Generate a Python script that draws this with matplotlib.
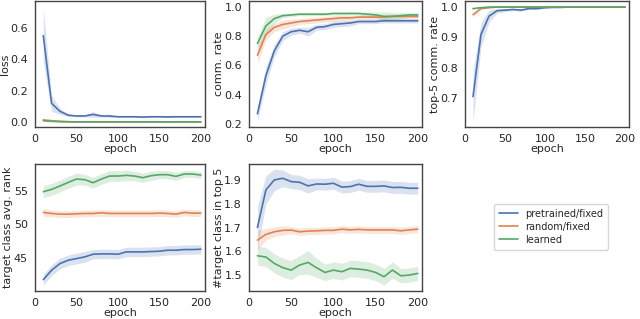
import matplotlib
matplotlib.use("Agg")
import matplotlib.pyplot as plt
import seaborn as sns
import numpy as np

sns.set_style("white")
plt.rcParams['font.family'] = ['DejaVu Sans']

epochs = [10, 20, 30, 40, 50, 60, 70, 80, 90, 100, 110, 120, 130, 140, 150, 160, 170, 180, 190, 200]
series_names = ["pretrained/fixed", "random/fixed", "learned"]

loss_pre = [0.55, 0.12, 0.07, 0.045, 0.04, 0.04, 0.05, 0.04, 0.04, 0.035, 0.035, 0.035, 0.033, 0.035, 0.035, 0.034, 0.035, 0.035, 0.035, 0.035]
loss_pre_err = [0.17, 0.05, 0.02, 0.008, 0.006, 0.006, 0.018, 0.006, 0.01, 0.004, 0.004, 0.004, 0.004, 0.004, 0.004, 0.004, 0.004, 0.004, 0.004, 0.004]
loss_rnd = [0.015, 0.01, 0.006, 0.004, 0.003, 0.003, 0.003, 0.003, 0.003, 0.003, 0.003, 0.003, 0.003, 0.003, 0.003, 0.003, 0.003, 0.003, 0.003, 0.003]
loss_rnd_err = [0.003, 0.002, 0.001, 0.001, 0.001, 0.001, 0.001, 0.001, 0.001, 0.001, 0.001, 0.001, 0.001, 0.001, 0.001, 0.001, 0.001, 0.001, 0.001, 0.001]
loss_lrn = [0.01, 0.006, 0.004, 0.003, 0.002, 0.002, 0.002, 0.002, 0.002, 0.002, 0.002, 0.002, 0.002, 0.002, 0.002, 0.002, 0.002, 0.002, 0.002, 0.002]
loss_lrn_err = [0.002, 0.001, 0.001, 0.001, 0.001, 0.001, 0.001, 0.001, 0.001, 0.001, 0.001, 0.001, 0.001, 0.001, 0.001, 0.001, 0.001, 0.001, 0.001, 0.001]

comm_pre = [0.27, 0.53, 0.70, 0.80, 0.83, 0.84, 0.83, 0.86, 0.865, 0.88, 0.885, 0.89, 0.90, 0.90, 0.90, 0.905, 0.905, 0.905, 0.905, 0.905]
comm_pre_err = [0.05, 0.06, 0.04, 0.03, 0.025, 0.02, 0.03, 0.02, 0.02, 0.02, 0.02, 0.02, 0.015, 0.015, 0.015, 0.015, 0.015, 0.015, 0.015, 0.015]
comm_rnd = [0.67, 0.81, 0.86, 0.88, 0.89, 0.90, 0.905, 0.91, 0.915, 0.92, 0.925, 0.925, 0.93, 0.93, 0.93, 0.93, 0.935, 0.935, 0.935, 0.935]
comm_rnd_err = [0.06, 0.04, 0.03, 0.03, 0.025, 0.02, 0.02, 0.02, 0.02, 0.02, 0.02, 0.015, 0.015, 0.015, 0.015, 0.015, 0.015, 0.015, 0.015, 0.015]
comm_lrn = [0.75, 0.87, 0.92, 0.94, 0.945, 0.95, 0.95, 0.95, 0.95, 0.955, 0.955, 0.955, 0.955, 0.95, 0.945, 0.935, 0.935, 0.94, 0.945, 0.945]
comm_lrn_err = [0.04, 0.06, 0.03, 0.015, 0.012, 0.01, 0.01, 0.01, 0.01, 0.01, 0.01, 0.01, 0.01, 0.015, 0.02, 0.03, 0.025, 0.02, 0.015, 0.015]

top5_pre = [0.705, 0.91, 0.97, 0.988, 0.99, 0.992, 0.99, 0.995, 0.995, 0.998, 0.999, 0.999, 1.0, 1.0, 1.0, 1.0, 1.0, 1.0, 1.0, 1.0]
top5_pre_err = [0.085, 0.04, 0.02, 0.008, 0.005, 0.004, 0.004, 0.003, 0.003, 0.002, 0.001, 0.001, 0.001, 0.001, 0.001, 0.001, 0.001, 0.001, 0.001, 0.001]
top5_rnd = [0.975, 0.995, 0.998, 1.0, 1.0, 1.0, 1.0, 1.0, 1.0, 1.0, 1.0, 1.0, 1.0, 1.0, 1.0, 1.0, 1.0, 1.0, 1.0, 1.0]
top5_rnd_err = [0.008, 0.003, 0.001, 0.0005, 0.0005, 0.0005, 0.0005, 0.0005, 0.0005, 0.0005, 0.0005, 0.0005, 0.0005, 0.0005, 0.0005, 0.0005, 0.0005, 0.0005, 0.0005, 0.0005]
top5_lrn = [0.995, 0.998, 1.0, 1.0, 1.0, 1.0, 1.0, 1.0, 1.0, 1.0, 1.0, 1.0, 1.0, 1.0, 1.0, 1.0, 1.0, 1.0, 1.0, 1.0]
top5_lrn_err = [0.003, 0.001, 0.0005, 0.0005, 0.0005, 0.0005, 0.0005, 0.0005, 0.0005, 0.0005, 0.0005, 0.0005, 0.0005, 0.0005, 0.0005, 0.0005, 0.0005, 0.0005, 0.0005, 0.0005]

rank_pre = [41.7, 43.1, 44.1, 44.6, 44.85, 45.1, 45.5, 45.55, 45.55, 45.5, 45.85, 45.85, 45.85, 45.9, 45.95, 46.1, 46.1, 46.2, 46.2, 46.25]
rank_pre_err = [0.8, 0.8, 0.8, 0.8, 0.8, 0.8, 0.7, 0.7, 0.7, 0.7, 0.7, 0.7, 0.7, 0.7, 0.7, 0.7, 0.7, 0.7, 0.7, 0.7]
rank_rnd = [51.75, 51.6, 51.5, 51.5, 51.55, 51.6, 51.6, 51.7, 51.6, 51.6, 51.6, 51.6, 51.6, 51.6, 51.65, 51.6, 51.5, 51.75, 51.65, 51.65]
rank_rnd_err = [0.6, 0.5, 0.5, 0.5, 0.5, 0.5, 0.5, 0.5, 0.5, 0.5, 0.5, 0.5, 0.5, 0.5, 0.5, 0.5, 0.5, 0.5, 0.5, 0.5]
rank_lrn = [54.85, 55.2, 55.7, 56.25, 56.75, 56.65, 56.2, 56.75, 57.2, 57.2, 57.3, 57.2, 56.95, 57.25, 57.4, 57.4, 57.15, 57.5, 57.5, 57.35]
rank_lrn_err = [0.9, 0.9, 0.9, 0.9, 0.9, 0.8, 0.8, 0.8, 0.8, 0.8, 0.8, 0.7, 0.7, 0.7, 0.6, 0.6, 0.6, 0.5, 0.5, 0.5]

in5_pre = [1.70, 1.858, 1.90, 1.907, 1.893, 1.89, 1.875, 1.883, 1.882, 1.886, 1.87, 1.872, 1.882, 1.873, 1.873, 1.875, 1.868, 1.869, 1.865, 1.865]
in5_pre_err = [0.09, 0.06, 0.045, 0.035, 0.03, 0.03, 0.03, 0.025, 0.025, 0.025, 0.025, 0.025, 0.025, 0.025, 0.025, 0.025, 0.025, 0.025, 0.025, 0.025]
in5_rnd = [1.647, 1.671, 1.682, 1.688, 1.689, 1.682, 1.685, 1.686, 1.688, 1.688, 1.693, 1.69, 1.692, 1.69, 1.69, 1.69, 1.69, 1.686, 1.69, 1.693]
in5_rnd_err = [0.04, 0.025, 0.02, 0.02, 0.015, 0.015, 0.015, 0.015, 0.015, 0.015, 0.015, 0.015, 0.015, 0.015, 0.015, 0.015, 0.015, 0.015, 0.015, 0.015]
in5_lrn = [1.581, 1.576, 1.549, 1.531, 1.521, 1.542, 1.553, 1.531, 1.511, 1.521, 1.514, 1.528, 1.525, 1.521, 1.511, 1.493, 1.521, 1.497, 1.50, 1.507]
in5_lrn_err = [0.04, 0.04, 0.04, 0.04, 0.04, 0.04, 0.05, 0.04, 0.035, 0.035, 0.035, 0.035, 0.035, 0.035, 0.035, 0.035, 0.035, 0.03, 0.03, 0.03]

colors = sns.color_palette("deep", 3)

panels = [
    ("loss", [(loss_pre, loss_pre_err), (loss_rnd, loss_rnd_err), (loss_lrn, loss_lrn_err)], [0.0, 0.2, 0.4, 0.6], (-0.03, 0.77)),
    ("comm. rate", [(comm_pre, comm_pre_err), (comm_rnd, comm_rnd_err), (comm_lrn, comm_lrn_err)], [0.2, 0.4, 0.6, 0.8, 1.0], (0.18, 1.04)),
    ("top-5 comm. rate", [(top5_pre, top5_pre_err), (top5_rnd, top5_rnd_err), (top5_lrn, top5_lrn_err)], [0.7, 0.8, 0.9, 1.0], (0.605, 1.02)),
    ("target class avg. rank", [(rank_pre, rank_pre_err), (rank_rnd, rank_rnd_err), (rank_lrn, rank_lrn_err)], [45, 50, 55], (40.0, 59.0)),
    ("#target class in top 5", [(in5_pre, in5_pre_err), (in5_rnd, in5_rnd_err), (in5_lrn, in5_lrn_err)], [1.5, 1.6, 1.7, 1.8, 1.9], (1.433, 1.967)),
]

W, H = 640, 319
boxes = [
    (35, 1, 170, 126),
    (249, 1, 173, 126),
    (465, 1, 164, 126),
    (35, 164, 170, 127),
    (249, 164, 173, 127),
]

FS = 8
fig = plt.figure(figsize=(6.4, 3.19), dpi=100)
x = np.array(epochs)
handles = []
for (label, data, ticks, ylim), (bx, by, bw, bh) in zip(panels, boxes):
    ax = fig.add_axes([bx / W, 1 - (by + bh) / H, bw / W, bh / H])
    for i, (m, e) in enumerate(data):
        m = np.array(m); e = np.array(e)
        ax.fill_between(x, m - e, m + e, color=colors[i], alpha=0.2, linewidth=0)
        ln, = ax.plot(x, m, color=colors[i], lw=1.2, label=series_names[i])
        if label == "loss":
            handles.append(ln)
    ax.set_xlim(0, 205)
    ax.set_ylim(*ylim)
    ax.set_xticks([0, 50, 100, 150, 200])
    ax.set_yticks(ticks)
    ax.set_xlabel("epoch", fontsize=FS, labelpad=0)
    ax.set_ylabel(label, fontsize=FS, labelpad=0.5)
    ax.tick_params(labelsize=FS, pad=1.5)
    for s in ax.spines.values():
        s.set_color("#444444")
        s.set_linewidth(1.0)

fig.legend(handles=handles, labels=series_names, loc="upper left",
           bbox_to_anchor=(494 / W, 1 - 204 / H), borderaxespad=0,
           fontsize=7, frameon=True,
           handlelength=2.0, handletextpad=0.7, borderpad=0.5, labelspacing=0.3)

fig.savefig("out.png", dpi=100)
